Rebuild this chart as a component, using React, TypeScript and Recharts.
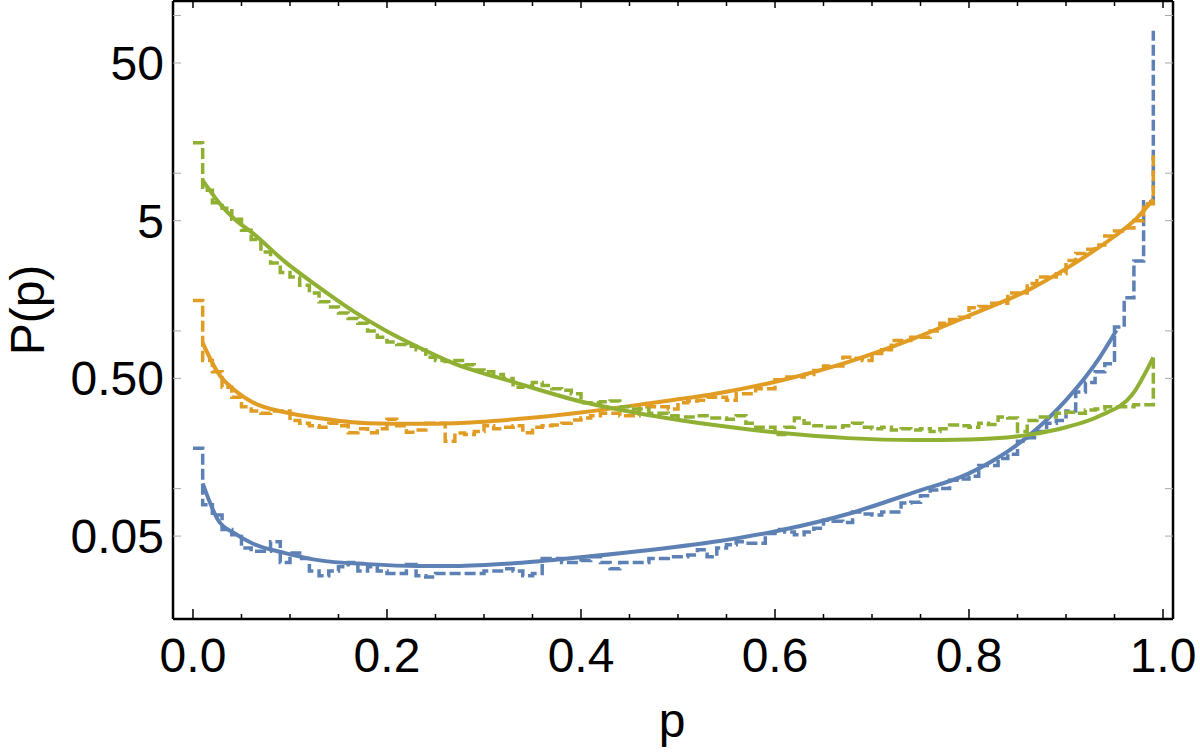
import { LineChart, Line, XAxis, YAxis } from "recharts";

const FONT = "'Liberation Sans', Arial, Helvetica, sans-serif";
const BLUE = "#5E81B5";
const ORANGE = "#E19C24";
const GREEN = "#8FB032";

// histogram bins are 0.01 wide, starting at p = 0
const binStarts = Array.from({ length: 100 }, (_, i) => i / 100);

const blueHist = [
  0.18, 0.079, 0.068, 0.055, 0.051, 0.042, 0.04, 0.04, 0.046, 0.034,
  0.039, 0.036, 0.03, 0.028, 0.03, 0.032, 0.034, 0.03, 0.032, 0.03,
  0.029, 0.029, 0.033, 0.028, 0.0275, 0.029, 0.029, 0.029, 0.029, 0.029,
  0.03, 0.03, 0.031, 0.03, 0.028, 0.029, 0.036, 0.036, 0.034, 0.034,
  0.035, 0.037, 0.034, 0.031, 0.034, 0.034, 0.034, 0.036, 0.036, 0.037,
  0.037, 0.038, 0.041, 0.037, 0.042, 0.044, 0.046, 0.045, 0.045, 0.052,
  0.055, 0.053, 0.051, 0.053, 0.056, 0.063, 0.062, 0.061, 0.071, 0.069,
  0.068, 0.071, 0.071, 0.081, 0.082, 0.09, 0.098, 0.1, 0.113, 0.115,
  0.12, 0.14, 0.14, 0.155, 0.165, 0.2, 0.21, 0.23, 0.26, 0.27,
  0.31, 0.41, 0.47, 0.55, 0.62, 1.06, 1.62, 2.78, 6.6, 80,
];

const orangeHist = [
  1.56, 0.65, 0.55, 0.44, 0.38, 0.33, 0.31, 0.3, 0.31, 0.31,
  0.27, 0.26, 0.25, 0.245, 0.26, 0.25, 0.226, 0.24, 0.226, 0.24,
  0.275, 0.25, 0.228, 0.235, 0.26, 0.26, 0.2, 0.225, 0.22, 0.23,
  0.25, 0.24, 0.245, 0.25, 0.226, 0.245, 0.25, 0.253, 0.26, 0.272,
  0.28, 0.29, 0.3, 0.3, 0.29, 0.29, 0.33, 0.33, 0.33, 0.32,
  0.35, 0.36, 0.364, 0.38, 0.38, 0.364, 0.4, 0.4, 0.43, 0.43,
  0.49, 0.51, 0.51, 0.53, 0.56, 0.6, 0.6, 0.68, 0.67, 0.65,
  0.72, 0.76, 0.87, 0.87, 0.91, 0.91, 1.0, 1.12, 1.18, 1.22,
  1.4, 1.43, 1.5, 1.5, 1.74, 1.74, 2.0, 2.2, 2.2, 2.3,
  2.8, 3.1, 3.3, 3.5, 4.0, 4.3, 4.5, 5.0, 6.4, 13,
];

const greenHist = [
  15.6, 7.8, 6.5, 6.0, 5.1, 4.35, 3.8, 3.16, 2.7, 2.35,
  2.2, 1.95, 1.74, 1.53, 1.42, 1.3, 1.2, 1.12, 1.0, 0.91,
  0.85, 0.82, 0.8, 0.76, 0.68, 0.65, 0.64, 0.65, 0.61, 0.565,
  0.55, 0.53, 0.5, 0.44, 0.45, 0.47, 0.45, 0.43, 0.42, 0.4,
  0.35, 0.35, 0.355, 0.36, 0.33, 0.32, 0.32, 0.3, 0.3, 0.29,
  0.285, 0.285, 0.29, 0.28, 0.28, 0.275, 0.29, 0.26, 0.245, 0.245,
  0.22, 0.245, 0.28, 0.26, 0.25, 0.245, 0.245, 0.25, 0.26, 0.245,
  0.24, 0.245, 0.235, 0.24, 0.235, 0.24, 0.23, 0.24, 0.253, 0.25,
  0.245, 0.26, 0.255, 0.285, 0.28, 0.23, 0.27, 0.285, 0.285, 0.3,
  0.305, 0.3, 0.315, 0.32, 0.33, 0.33, 0.33, 0.34, 0.34, 0.7,
];

// fitted curves, read at these p values
const blueCurveP = [0.01, 0.026, 0.043, 0.061, 0.095, 0.129, 0.18, 0.232, 0.27, 0.334, 0.402, 0.471, 0.543, 0.607, 0.675, 0.744, 0.8, 0.863, 0.9, 0.935, 0.952];
const blueCurve = [0.108, 0.063, 0.052, 0.045, 0.039, 0.0352, 0.0332, 0.0323, 0.0323, 0.0337, 0.0368, 0.0408, 0.0465, 0.0546, 0.069, 0.095, 0.125, 0.22, 0.364, 0.683, 1.01];

const orangeCurveP = [0.01, 0.026, 0.043, 0.061, 0.095, 0.129, 0.18, 0.232, 0.27, 0.334, 0.402, 0.471, 0.543, 0.607, 0.675, 0.744, 0.8, 0.863, 0.914, 0.949, 0.973, 0.99];
const orangeCurve = [0.84, 0.54, 0.42, 0.354, 0.305, 0.28, 0.26, 0.258, 0.26, 0.276, 0.305, 0.348, 0.404, 0.487, 0.634, 0.9, 1.25, 1.84, 2.81, 3.94, 5.19, 6.85];

const greenCurveP = [0.01, 0.026, 0.043, 0.061, 0.095, 0.129, 0.164, 0.198, 0.232, 0.267, 0.334, 0.402, 0.471, 0.543, 0.607, 0.675, 0.744, 0.8, 0.863, 0.9, 0.935, 0.969, 0.99];
const greenCurve = [9.0, 6.6, 5.1, 4.2, 2.74, 1.91, 1.35, 1.01, 0.79, 0.63, 0.467, 0.354, 0.292, 0.25, 0.225, 0.209, 0.203, 0.205, 0.22, 0.245, 0.29, 0.4, 0.68];

const xMajorTicks = [0, 0.2, 0.4, 0.6, 0.8, 1.0];
const xMinorTicks = [0.05, 0.1, 0.15, 0.25, 0.3, 0.35, 0.45, 0.5, 0.55, 0.65, 0.7, 0.75, 0.85, 0.9, 0.95];
const xTicks = [...xMajorTicks, ...xMinorTicks].sort((a, b) => a - b);

const yMajorTicks = [0.05, 0.5, 5, 50];
const yMajorLabels = ["0.05", "0.50", "5", "50"];
const yMinorTicks = [0.1, 1, 10, 100];
const yTicks = [...yMajorTicks, ...yMinorTicks].sort((a, b) => a - b);

const X_DOMAIN: [number, number] = [-0.0206, 1.0103];
const Y_DOMAIN: [number, number] = [0.0149, 123.6];

const rows = (xs: number[], ys: number[]) => xs.map((p, i) => ({ p, v: ys[i] }));

const isMajorX = (v: number) => xMajorTicks.some((m) => Math.abs(m - v) < 1e-9);

const BottomTick = (props: any) => {
  const { x, y, payload } = props;
  const major = isMajorX(payload.value);
  return (
    <g>
      <line x1={x} x2={x} y1={y} y2={y - (major ? 10 : 5)} stroke="#000" strokeWidth={1.5} />
      {major && (
        <text x={x} y={y + 53} textAnchor="middle" fontSize={48} fontFamily={FONT} fill="#000">
          {payload.value.toFixed(1)}
        </text>
      )}
    </g>
  );
};

const TopTick = (props: any) => {
  const { x, y, payload } = props;
  const major = isMajorX(payload.value);
  return <line x1={x} x2={x} y1={y} y2={y + (major ? 7 : 5)} stroke="#000" strokeWidth={1.5} />;
};

const LeftTick = (props: any) => {
  const { x, y, payload } = props;
  const idx = yMajorTicks.indexOf(payload.value);
  return (
    <g>
      <line x1={x} x2={x + 8} y1={y} y2={y} stroke="#aaa" strokeWidth={1} />
      {idx >= 0 && (
        <text x={x - 9} y={y + 17} textAnchor="end" fontSize={48} fontFamily={FONT} fill="#000">
          {yMajorLabels[idx]}
        </text>
      )}
    </g>
  );
};

const RightTick = (props: any) => {
  const { x, y } = props;
  return <line x1={x} x2={x - 8} y1={y} y2={y} stroke="#aaa" strokeWidth={1} />;
};

const frame = { stroke: "#000", strokeWidth: 2.5 };

export default function App() {
  return (
    <div style={{ position: "absolute", left: 0, top: 0, width: 1200, height: 753, background: "#fff" }}>
      <LineChart width={1200} height={753} margin={{ top: 0, right: 26, bottom: 133, left: 172 }}>
        <XAxis dataKey="p" type="number" domain={X_DOMAIN} allowDataOverflow ticks={xTicks} interval={0} stroke="#000"
          height={1} tickSize={0} tickMargin={0} tickLine={false} axisLine={frame} tick={BottomTick} />
        <XAxis xAxisId="top" orientation="top" dataKey="p" type="number" domain={X_DOMAIN} allowDataOverflow stroke="#000"
          ticks={xTicks} interval={0} height={1} tickSize={0} tickMargin={0} tickLine={false} axisLine={frame} tick={TopTick} />
        <YAxis scale="log" type="number" domain={Y_DOMAIN} allowDataOverflow ticks={yTicks} interval={0} stroke="#000"
          width={1} tickSize={0} tickMargin={0} tickLine={false} axisLine={frame} tick={LeftTick} />
        <YAxis yAxisId="right" orientation="right" scale="log" type="number" domain={Y_DOMAIN} allowDataOverflow stroke="#000"
          ticks={yTicks} interval={0} width={1} tickSize={0} tickMargin={0} tickLine={false} axisLine={frame} tick={RightTick} />

        <Line data={rows(binStarts, blueHist)} dataKey="v" type="stepAfter" stroke={BLUE} strokeWidth={3.5}
          strokeDasharray="11 4" dot={false} isAnimationActive={false} />
        <Line data={rows(blueCurveP, blueCurve)} dataKey="v" type="monotone" stroke={BLUE} strokeWidth={4}
          dot={false} isAnimationActive={false} />
        <Line data={rows(binStarts, orangeHist)} dataKey="v" type="stepAfter" stroke={ORANGE} strokeWidth={3.5}
          strokeDasharray="11 4" dot={false} isAnimationActive={false} />
        <Line data={rows(orangeCurveP, orangeCurve)} dataKey="v" type="monotone" stroke={ORANGE} strokeWidth={4}
          dot={false} isAnimationActive={false} />
        <Line data={rows(binStarts, greenHist)} dataKey="v" type="stepAfter" stroke={GREEN} strokeWidth={3.5}
          strokeDasharray="11 4" dot={false} isAnimationActive={false} />
        <Line data={rows(greenCurveP, greenCurve)} dataKey="v" type="monotone" stroke={GREEN} strokeWidth={4}
          dot={false} isAnimationActive={false} />
      </LineChart>
      <svg width={1200} height={753} style={{ position: "absolute", left: 0, top: 0, pointerEvents: "none" }}>
        <text x={672} y={737} textAnchor="middle" fontSize={48} fontFamily={FONT} fill="#000">p</text>
        <text transform="translate(44, 310) rotate(-90)" textAnchor="middle" fontSize={48} fontFamily={FONT} fill="#000">P(p)</text>
      </svg>
    </div>
  );
}
